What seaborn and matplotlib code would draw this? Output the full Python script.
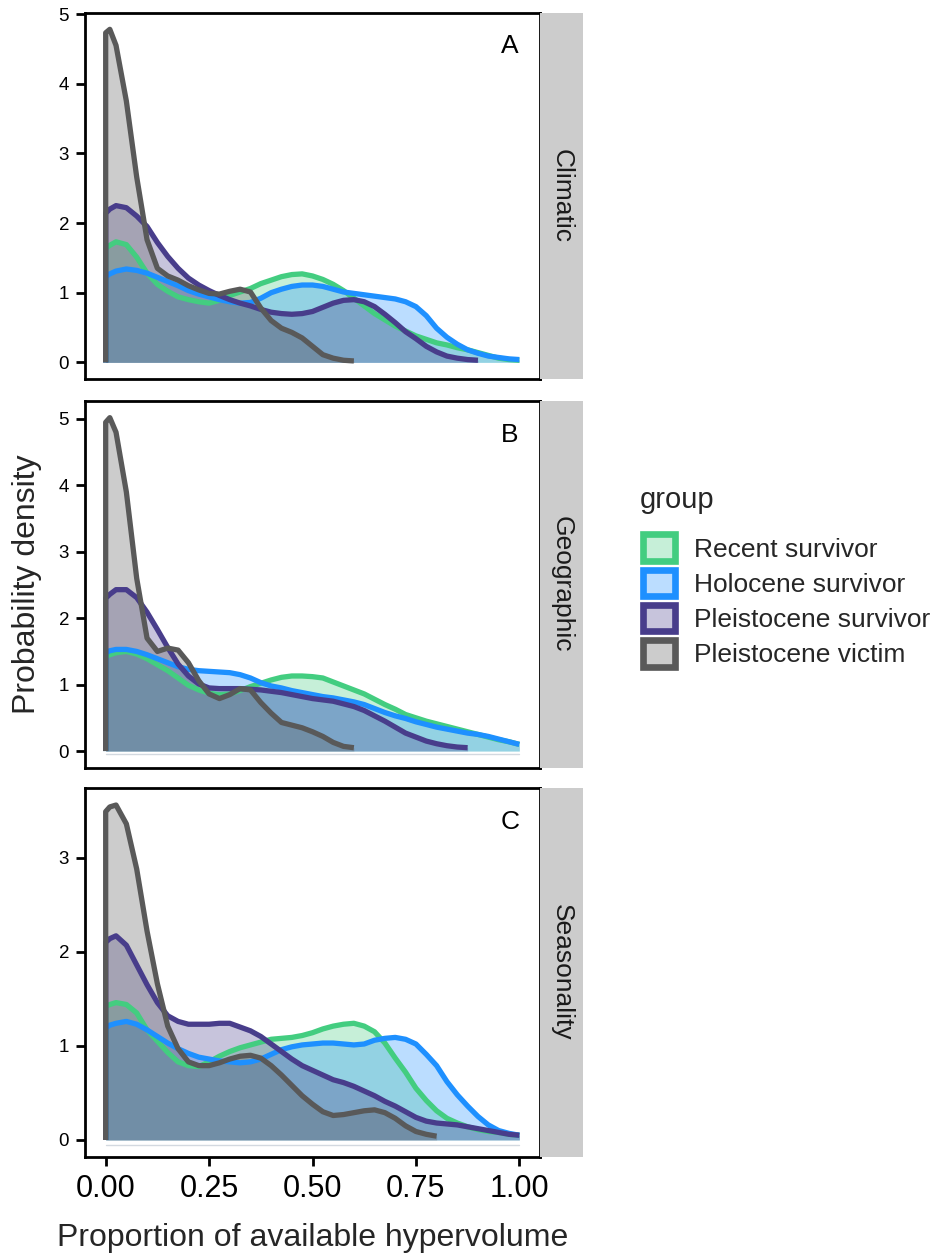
import numpy as np
import pandas as pd
import seaborn as sns
from matplotlib import pyplot as plt
from matplotlib.patches import Patch

# posiciones en x donde lei las curvas (proporcion del hipervolumen)
X_GRID = [0.0, 0.01, 0.025, 0.05, 0.075, 0.1, 0.125, 0.15, 0.175, 0.2,
          0.225, 0.25, 0.275, 0.3, 0.325, 0.35, 0.375, 0.4, 0.425, 0.45,
          0.475, 0.5, 0.525, 0.55, 0.575, 0.6, 0.625, 0.65, 0.675, 0.7,
          0.725, 0.75, 0.775, 0.8, 0.825, 0.85, 0.875, 0.9, 0.925, 0.95,
          0.975, 1.0]

GROUPS = ['Recent survivor', 'Holocene survivor', 'Pleistocene survivor', 'Pleistocene victim']
COLORS = ['#43CD80', '#1E90FF', '#483D8B', '#595959']
PANELS = ['Climatic', 'Geographic', 'Seasonality']
LETTERS = ['A', 'B', 'C']
Y_TICKS = [[0, 1, 2, 3, 4, 5], [0, 1, 2, 3, 4, 5], [0, 1, 2, 3]]

# A - Climatic
A_RECENT = [1.64, 1.68, 1.73, 1.69, 1.51, 1.28, 1.12, 1.02, 0.94, 0.90,
            0.87, 0.85, 0.89, 0.96, 1.01, 1.06, 1.13, 1.18, 1.23, 1.26,
            1.27, 1.24, 1.19, 1.12, 1.03, 0.92, 0.81, 0.70, 0.61, 0.52,
            0.45, 0.38, 0.33, 0.28, 0.25, 0.21, 0.18, 0.14, 0.10, 0.06,
            0.04, 0.03]
A_HOLOCENE = [1.23, 1.27, 1.31, 1.34, 1.32, 1.28, 1.22, 1.16, 1.10, 1.03,
              0.98, 0.94, 0.90, 0.87, 0.85, 0.86, 0.92, 1.00, 1.05, 1.09,
              1.11, 1.11, 1.09, 1.05, 1.01, 0.99, 0.97, 0.95, 0.93, 0.91,
              0.87, 0.80, 0.67, 0.49, 0.36, 0.26, 0.18, 0.13, 0.09, 0.07,
              0.05, 0.04]
A_PLEIST_SURV = [2.14, 2.20, 2.25, 2.22, 2.10, 1.95, 1.72, 1.52, 1.35, 1.21,
                 1.11, 1.03, 0.96, 0.90, 0.85, 0.81, 0.76, 0.72, 0.70, 0.69,
                 0.70, 0.73, 0.79, 0.85, 0.89, 0.90, 0.87, 0.80, 0.69, 0.57,
                 0.44, 0.34, 0.23, 0.15, 0.09, 0.06, 0.04, 0.03]
A_PLEIST_VICT = [4.73, 4.78, 4.55, 3.75, 2.66, 1.76, 1.35, 1.24, 1.18, 1.10,
                 1.04, 0.99, 0.98, 1.02, 1.05, 1.01, 0.78, 0.60, 0.49, 0.43,
                 0.35, 0.23, 0.11, 0.06, 0.03, 0.02]

# B - Geographic
B_RECENT = [1.42, 1.45, 1.48, 1.50, 1.46, 1.39, 1.30, 1.21, 1.10, 0.99,
            0.92, 0.87, 0.85, 0.86, 0.91, 0.97, 1.02, 1.07, 1.11, 1.13,
            1.13, 1.12, 1.10, 1.04, 0.98, 0.92, 0.86, 0.78, 0.70, 0.63,
            0.55, 0.50, 0.45, 0.41, 0.37, 0.33, 0.29, 0.25, 0.21, 0.17,
            0.14, 0.10]
B_HOLOCENE = [1.48, 1.51, 1.53, 1.53, 1.50, 1.45, 1.39, 1.33, 1.27, 1.23,
              1.21, 1.20, 1.19, 1.18, 1.15, 1.10, 1.03, 0.98, 0.95, 0.91,
              0.88, 0.85, 0.82, 0.80, 0.77, 0.74, 0.70, 0.64, 0.58, 0.53,
              0.49, 0.44, 0.40, 0.36, 0.33, 0.30, 0.27, 0.25, 0.22, 0.18,
              0.14, 0.10]
B_PLEIST_SURV = [2.30, 2.36, 2.43, 2.43, 2.31, 2.09, 1.83, 1.56, 1.31, 1.13,
                 1.01, 0.95, 0.94, 0.94, 0.94, 0.93, 0.92, 0.90, 0.88, 0.85,
                 0.82, 0.79, 0.77, 0.75, 0.71, 0.67, 0.61, 0.53, 0.45, 0.36,
                 0.27, 0.21, 0.15, 0.11, 0.08, 0.06, 0.05]
B_PLEIST_VICT = [4.95, 5.02, 4.80, 3.90, 2.60, 1.70, 1.50, 1.55, 1.52, 1.33,
                 1.06, 0.86, 0.79, 0.85, 0.94, 0.92, 0.73, 0.57, 0.43, 0.39,
                 0.35, 0.29, 0.22, 0.13, 0.07, 0.05]

# C - Seasonality
C_RECENT = [1.42, 1.44, 1.46, 1.44, 1.35, 1.17, 1.05, 0.93, 0.83, 0.79,
            0.78, 0.83, 0.89, 0.94, 0.98, 1.01, 1.04, 1.07, 1.08, 1.09,
            1.11, 1.14, 1.18, 1.21, 1.23, 1.24, 1.21, 1.15, 1.03, 0.87,
            0.72, 0.55, 0.42, 0.31, 0.23, 0.18, 0.14, 0.11, 0.09, 0.08,
            0.06, 0.05]
C_HOLOCENE = [1.19, 1.22, 1.24, 1.26, 1.23, 1.17, 1.10, 1.03, 0.97, 0.92,
              0.88, 0.86, 0.84, 0.83, 0.82, 0.83, 0.86, 0.91, 0.96, 0.99,
              1.01, 1.02, 1.03, 1.03, 1.02, 1.01, 1.02, 1.06, 1.08, 1.09,
              1.07, 1.02, 0.91, 0.79, 0.62, 0.48, 0.36, 0.25, 0.16, 0.10,
              0.07, 0.05]
C_PLEIST_SURV = [2.10, 2.14, 2.17, 2.07, 1.86, 1.65, 1.46, 1.32, 1.26, 1.23,
                 1.23, 1.23, 1.24, 1.24, 1.20, 1.16, 1.10, 1.02, 0.94, 0.86,
                 0.79, 0.74, 0.69, 0.64, 0.61, 0.57, 0.52, 0.47, 0.41, 0.36,
                 0.30, 0.24, 0.20, 0.18, 0.17, 0.16, 0.14, 0.12, 0.10, 0.08,
                 0.06, 0.05]
C_PLEIST_VICT = [3.49, 3.54, 3.56, 3.36, 2.88, 2.22, 1.66, 1.21, 0.97, 0.83,
                 0.79, 0.79, 0.82, 0.86, 0.89, 0.90, 0.87, 0.79, 0.69, 0.58,
                 0.47, 0.38, 0.30, 0.26, 0.27, 0.29, 0.31, 0.32, 0.29, 0.23,
                 0.15, 0.09, 0.06, 0.04]

curvas = {'Climatic': [A_RECENT, A_HOLOCENE, A_PLEIST_SURV, A_PLEIST_VICT],
          'Geographic': [B_RECENT, B_HOLOCENE, B_PLEIST_SURV, B_PLEIST_VICT],
          'Seasonality': [C_RECENT, C_HOLOCENE, C_PLEIST_SURV, C_PLEIST_VICT]}

# armo un df largo, cada curva termina donde terminan sus datos
filas = []
for panel in PANELS:
    for grupo, vals in zip(GROUPS, curvas[panel]):
        for x, y in zip(X_GRID, vals):
            filas.append({'panel': panel, 'group': grupo, 'x': x, 'y': y})
df = pd.DataFrame(filas)

sns.set_theme(style='white')
plt.rcParams['font.family'] = ['Liberation Sans', 'DejaVu Sans']

W, H = 936, 1255
fig = plt.figure(figsize=(W / 100, H / 100), dpi=100)

left, right = 85, 540
tops = [12.7, 401, 788.3]
bottoms = [379, 767.7, 1156.7]

for i, panel in enumerate(PANELS):
    t, b = tops[i], bottoms[i]
    ax = fig.add_axes([left / W, 1 - b / H, (right - left) / W, (b - t) / H])
    d = df[df['panel'] == panel]
    for grupo, color in zip(GROUPS, COLORS):
        sub = d[d['group'] == grupo]
        ax.fill_between(sub['x'], 0, sub['y'], color=color, alpha=0.3, lw=0)
        xs = np.r_[0.0, sub['x'].values]
        ys = np.r_[0.0, sub['y'].values]
        sns.lineplot(x=xs, y=ys, color=color, lw=3.8, estimator=None, sort=False,
                     ax=ax, solid_capstyle='butt', solid_joinstyle='round')
    if i > 0:
        ax.plot([0, 1], [-0.05, -0.05], color='#d3d9e0', lw=1, zorder=0)

    m = d['y'].max()
    ax.set_ylim(-0.05 * m, 1.05 * m)
    ax.set_xlim(-0.05, 1.05)
    ax.set_yticks(Y_TICKS[i])
    ax.set_xticks([0, 0.25, 0.5, 0.75, 1.0])
    ax.set_xticklabels(['0.00', '0.25', '0.50', '0.75', '1.00'])
    ax.set_xlabel('')
    ax.set_ylabel('')
    for s in ax.spines.values():
        s.set_visible(True)
        s.set_color('black')
        s.set_linewidth(2.0)
    ax.tick_params(axis='y', left=True, length=6.5, width=2, color='black',
                   labelsize=13.5, labelcolor='black', pad=5)
    if i == 2:
        ax.tick_params(axis='x', bottom=True, length=6.5, width=2, color='black',
                       labelsize=22, labelcolor='black', pad=6)
    else:
        ax.tick_params(axis='x', bottom=False, labelbottom=False)
    ax.text(0.934, 1 - 40.5 / (b - t), LETTERS[i], transform=ax.transAxes,
            ha='center', va='baseline', fontsize=19, color='black')

    # tira gris a la derecha
    sax = fig.add_axes([right / W, 1 - b / H, 43 / W, (b - t) / H])
    sax.set_facecolor('#cccccc')
    sax.set_xticks([])
    sax.set_yticks([])
    for s in sax.spines.values():
        s.set_visible(False)
    sax.text(0.5, 0.5, panel, rotation=-90, ha='center', va='center',
             fontsize=19, color='#1a1a1a', transform=sax.transAxes)

fig.text(27 / W, 1 - 584 / H, 'Probability density', rotation=90,
         ha='center', va='center', fontsize=23)
fig.text(313 / W, 1 - 1246 / H, 'Proportion of available hypervolume',
         ha='center', va='baseline', fontsize=23)

# leyenda
fig.text(640 / W, 1 - 508 / H, 'group', ha='left', va='baseline', fontsize=21)
handles = [Patch(facecolor=(*plt.matplotlib.colors.to_rgb(c), 0.3), edgecolor=c,
                 linewidth=4.8) for c in COLORS]
fig.legend(handles, GROUPS, loc='upper left',
           bbox_to_anchor=(643.4 / W, 1 - 534.4 / H), frameon=False,
           fontsize=19, handlelength=1.18, handleheight=1.18,
           labelspacing=0.3, handletextpad=0.72, borderpad=0, borderaxespad=0)

fig.savefig('out.png', dpi=100)
plt.close()
